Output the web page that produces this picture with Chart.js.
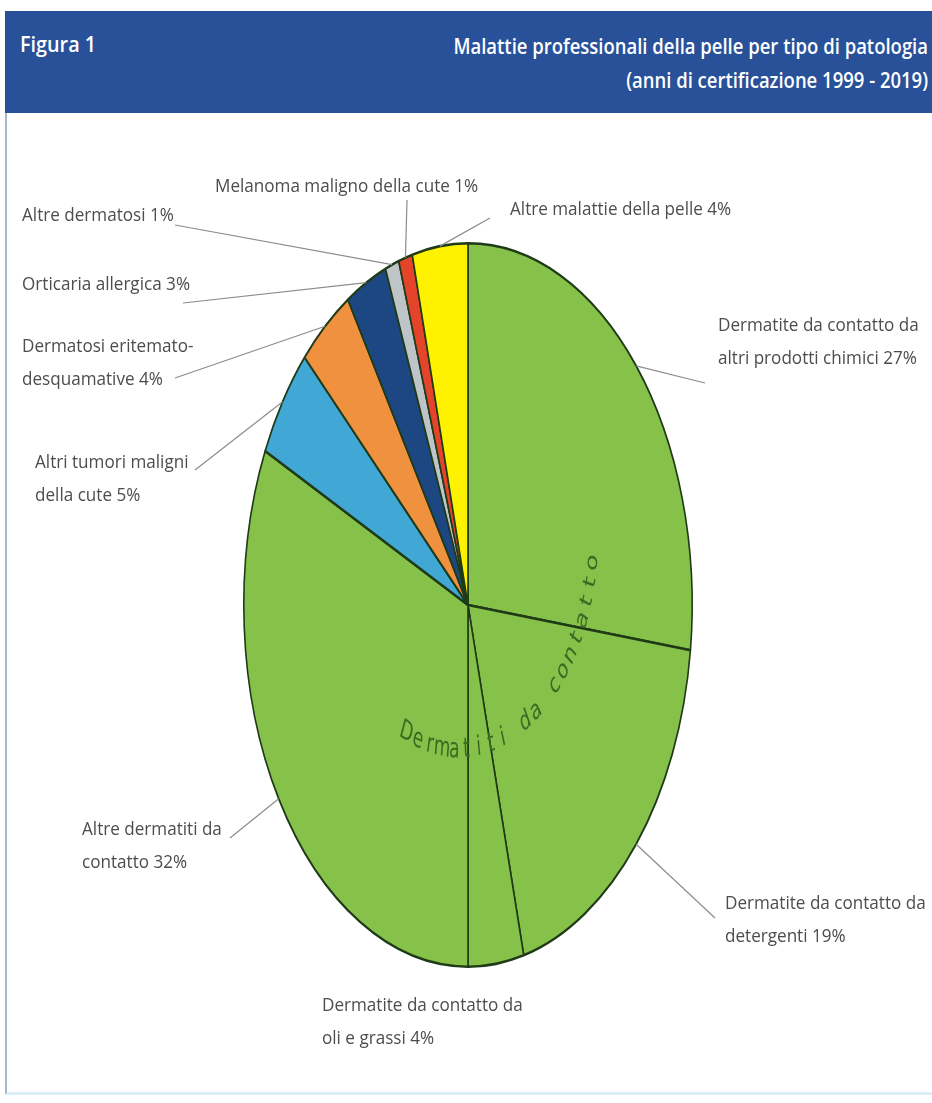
<!DOCTYPE html>
<html>
<head>
<meta charset="utf-8">
<script src="https://cdn.jsdelivr.net/npm/chart.js@4.4.0/dist/chart.umd.min.js"></script>
<style>
body { margin: 0; background: #fff; width: 932px; height: 1103px; overflow: hidden; position: relative; font-family: "Open Sans", sans-serif; }
#head { position: absolute; left: 5px; top: 11px; width: 927px; height: 102px; background: #28519a; color: #fff; }
#head .l { position: absolute; left: 15px; top: 17px; font-size: 22px; font-weight: 600; transform: scaleX(0.9); transform-origin: left; }
#head .r { position: absolute; right: 4px; top: 17px; font-size: 22px; font-weight: 600; line-height: 34px; text-align: right; transform: scaleX(0.84); transform-origin: right; white-space: nowrap; }
#frame { position: absolute; left: 5px; top: 113px; width: 925px; height: 979px; border-left: 2px solid #a9b8cc; border-bottom: 3px solid #dbeef6; }
#c { position: absolute; left: 0; top: 0; }
</style>
</head>
<body>
<div id="head">
  <div class="l">Figura 1</div>
  <div class="r">Malattie professionali della pelle per tipo di patologia<br>(anni di certificazione 1999 - 2019)</div>
</div>
<div id="frame"></div>
<canvas id="c" width="932" height="1103"></canvas>
<script>
// categorie, in senso orario partendo dalle ore 12
const categories = [
    ['Dermatite da contatto da', 'altri prodotti chimici'],
    ['Dermatite da contatto da', 'detergenti'],
    ['Dermatite da contatto da', 'oli e grassi'],
    ['Altre dermatiti da', 'contatto'],
    ['Altri tumori maligni', 'della cute'],
    ['Dermatosi eritemato-', 'desquamative'],
    ['Orticaria allergica'],
    ['Altre dermatosi'],
    ['Melanoma maligno della cute'],
    ['Altre malattie della pelle']
];
const shares = [27, 19, 4, 32, 5, 4, 3, 1, 1, 4];
const sliceColors = ['#86c14a', '#86c14a', '#86c14a', '#86c14a', '#41a7d5', '#f0913f', '#1d4783', '#bfc4c9', '#e5432a', '#fff200'];
const groupLabel = 'Dermatiti da contatto';

// posizione etichette: x testo, y prima riga, fine della linea guida
const labelPos = [
    { x: 718, y: 326, ex: 705, ey: 383 },
    { x: 725, y: 904, ex: 715, ey: 918 },
    { x: 322, y: 1006, ex: null, ey: null },
    { x: 82, y: 830, ex: 230, ey: 838 },
    { x: 35, y: 463, ex: 195, ey: 470 },
    { x: 22, y: 347, ex: 175, ey: 378 },
    { x: 22, y: 285, ex: 183, ey: 303 },
    { x: 22, y: 216, ex: 175, ey: 225 },
    { x: 215, y: 187, ex: 407, ey: 200 },
    { x: 510, y: 210, ex: 490, ey: 218 }
];

const stretchY = 363 / 225;

const ellipse = {
    id: 'ellipse',
    beforeDatasetsDraw(chart) {
        const a = chart.getDatasetMeta(0).data[0];
        const ctx = chart.ctx;
        ctx.save();
        ctx.translate(a.x, a.y);
        ctx.scale(1, stretchY);
        ctx.translate(-a.x, -a.y);
    },
    afterDatasetsDraw(chart) {
        const ctx = chart.ctx;
        const a = chart.getDatasetMeta(0).data[0];
        // testo curvo (ancora nello spazio stirato)
        const ccx = a.x - 9, ccy = a.y - 45, r = 135;
        const t0 = 113, step = 5.25;
        ctx.fillStyle = '#3b6b22';
        ctx.font = '17px "DejaVu Sans"';
        ctx.textAlign = 'center';
        ctx.textBaseline = 'middle';
        for (let i = 0; i < groupLabel.length; i++) {
            const th = (t0 - i * step) * Math.PI / 180;
            ctx.save();
            ctx.translate(ccx + r * Math.cos(th), ccy + r * Math.sin(th));
            ctx.rotate(th - Math.PI / 2);
            ctx.fillText(groupLabel[i], 0, 0);
            ctx.restore();
        }
        ctx.restore();
    },
    afterDraw(chart) {
        const ctx = chart.ctx;
        const arcs = chart.getDatasetMeta(0).data;
        ctx.save();
        arcs.forEach((arc, i) => {
            const p = labelPos[i];
            const mid = (arc.startAngle + arc.endAngle) / 2;
            const sx = arc.x + arc.outerRadius * Math.cos(mid);
            const sy = arc.y + arc.outerRadius * Math.sin(mid) * stretchY;
            if (p.ex !== null) {
                ctx.strokeStyle = '#8c8c8c';
                ctx.lineWidth = 1.2;
                ctx.beginPath();
                ctx.moveTo(sx, sy);
                ctx.lineTo(p.ex, p.ey);
                ctx.stroke();
            }
            const lines = categories[i].slice();
            lines[lines.length - 1] += ' ' + shares[i] + '%';
            ctx.fillStyle = '#4d4d4d';
            ctx.font = '19px "Open Sans"';
            ctx.textBaseline = 'middle';
            lines.forEach((ln, k) => {
                ctx.save();
                ctx.translate(p.x, p.y + k * 33);
                ctx.scale(0.9, 1);
                ctx.fillText(ln, 0, 0);
                ctx.restore();
            });
        });
        ctx.restore();
    }
};

new Chart(document.getElementById('c'), {
    type: 'pie',
    data: {
        labels: categories,
        datasets: [{
            data: shares,
            backgroundColor: sliceColors,
            borderColor: '#1f3a17',
            borderWidth: 1.6
        }]
    },
    options: {
        responsive: false,
        animation: false,
        layout: { padding: { left: 243, right: 239, top: 380, bottom: 273 } },
        plugins: { legend: { display: false }, tooltip: { enabled: false } }
    },
    plugins: [ellipse]
});
</script>
</body>
</html>
